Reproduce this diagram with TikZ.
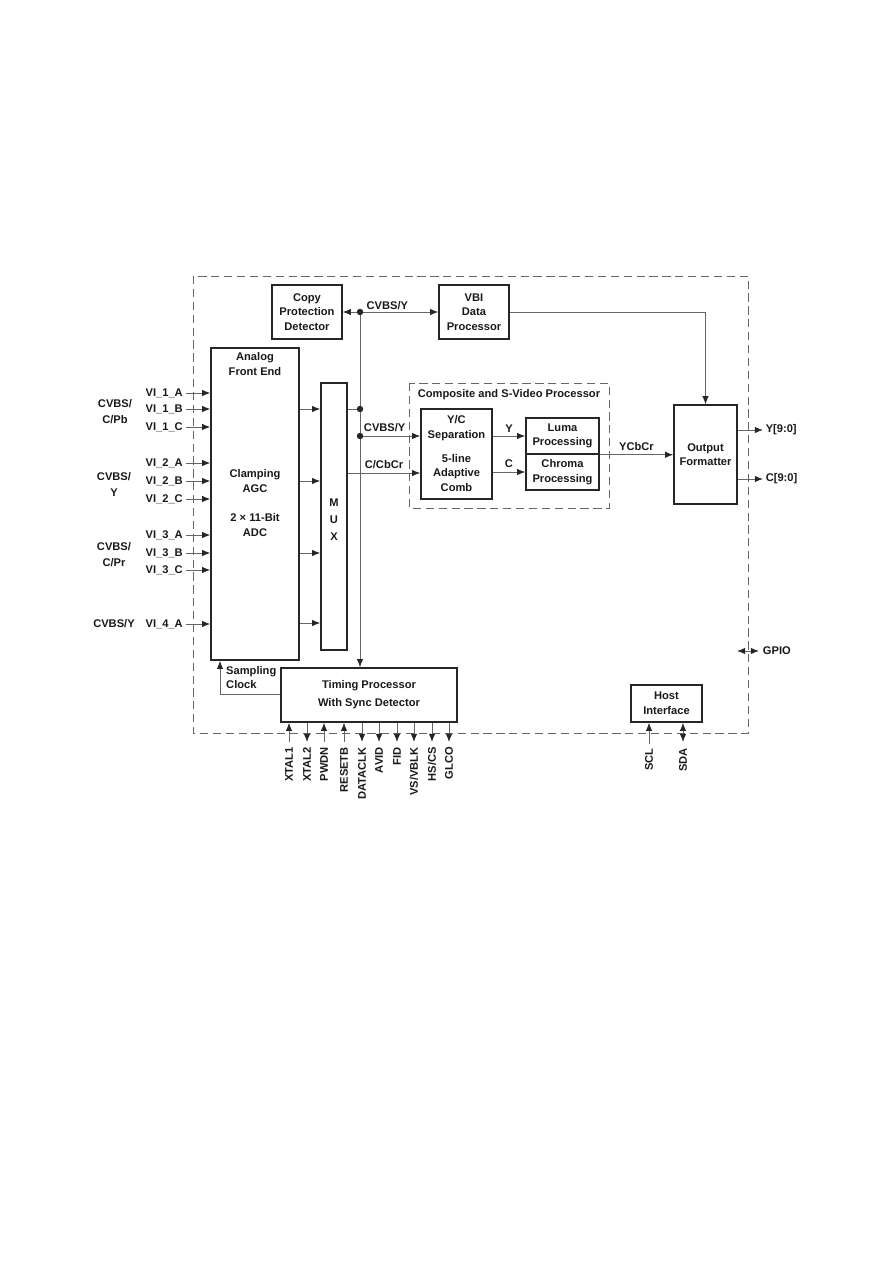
\documentclass[tikz,border=0pt]{standalone}
\usepackage{fontspec}
\setmainfont{Liberation Sans}
\usetikzlibrary{arrows.meta, positioning, calc}

\begin{document}
\begin{tikzpicture}[
    x=0.03cm, y=-0.03cm,
    every node/.style={font=\fontsize{9.5}{12.5}\selectfont\bfseries, text=black!90, inner sep=0pt},
    blk/.style={draw=black!85, line width=1.3pt, align=center},
    wire/.style={black!60, line width=0.7pt},
    arr/.style={wire, -{Latex[length=7pt,width=5.5pt,color=black!85]}},
    darr/.style={wire, {Latex[length=7pt,width=5.5pt,color=black!85]}-{Latex[length=7pt,width=5.5pt,color=black!85]}},
    dashbox/.style={draw=black!60, dash pattern=on 7pt off 4pt, line width=0.7pt},
    junc/.style={circle, fill=black!85, minimum size=5.5pt, inner sep=0pt}
]
\useasboundingbox (0,0) rectangle (893,1263);

% Chip border
\draw[dashbox] (193,276) rectangle (748,733);

% Blocks
\node[blk, minimum width=2.1cm, minimum height=1.62cm] (cpd) at (307,312) {Copy\\Protection\\Detector};
\node[blk, minimum width=2.1cm, minimum height=1.62cm] (vbi) at (474,312) {VBI\\Data\\Processor};
\node[blk, minimum width=2.64cm, minimum height=9.36cm] (afe) at (255,504) {};
\node[align=center] (afetop) at (255,364) {Analog\\Front End};
\node[align=center] (afemid) at (255,481) {Clamping\\AGC};
\node[align=center] (afebot) at (255,525) {2 × 11-Bit\\ADC};
\node[blk, minimum width=0.78cm, minimum height=8.01cm] (mux) at (334,516.5) {};
\node[align=center] (muxtxt) at (334,520) {M\\[2pt]U\\[2pt]X};

% Composite and S-Video Processor
\draw[dashbox] (409,383) rectangle (609,508);
\node (cvp) at (509,395) {Composite and S-Video Processor};
\node[blk, minimum width=2.13cm, minimum height=2.7cm] (yc) at (456.5,454) {};
\node[align=center] (yctop) at (456.5,428) {Y/C\\Separation};
\node[align=center] (ycbot) at (456.5,473) {5-line\\Adaptive\\Comb};
\node[blk, minimum width=2.19cm, minimum height=1.08cm] (luma) at (562.5,436) {Luma\\Processing};
\node[blk, minimum width=2.19cm, minimum height=1.08cm] (chroma) at (562.5,472) {Chroma\\Processing};

\node[blk, minimum width=1.89cm, minimum height=2.97cm] (of) at (705.5,454.5) {Output\\Formatter};
\node[blk, minimum width=5.28cm, minimum height=1.62cm] (tp) at (369,695) {Timing Processor\\[3pt]With Sync Detector};
\node[blk, minimum width=2.13cm, minimum height=1.11cm] (host) at (666.5,703.5) {Host\\Interface};

% CVBS/Y bus
\coordinate (bus) at (360,312);
\coordinate (j1) at (360,409);
\coordinate (j2) at (360,436);
\coordinate (cc) at (360,473);
\draw[arr] (bus) -- (cpd);
\draw[arr] (bus) -- node[above=2pt, pos=0.35] (buslbl) {CVBS/Y} (vbi);
\draw[arr] (bus) -- (bus |- tp.north);
\draw[wire] (mux.east |- j1) -- (j1);
\draw[arr] (j2) -- node[above=3pt, pos=0.41] (cvbslbl) {CVBS/Y} (yc.west |- j2);
\draw[arr] (mux.east |- cc) -- node[above=3pt] (ccblbl) {C/CbCr} (yc.west |- cc);
\node[junc] (jn0) at (bus) {};
\node[junc] (jn1) at (j1) {};
\node[junc] (jn2) at (j2) {};

% AFE to MUX
\foreach \y in {409,481,553,623} {
  \coordinate (m) at (0,\y);
  \draw[arr] (afe.east |- m) -- (mux.west |- m);
}

% Luma / chroma path
\draw[arr] (yc.east |- luma) -- node[above=3pt] (ylbl) {Y} (luma.west);
\draw[arr] (yc.east |- chroma) -- node[above=3pt] (clbl) {C} (chroma.west);
\draw[arr] (luma.south east) -- node[above=3pt] (ycbcrlbl) {YCbCr} (of.west |- luma.south);
\draw[arr] (vbi.east) -| (of.north);

% Outputs
\coordinate (yo) at (763,430);
\coordinate (co) at (763,479);
\draw[arr] (of.east |- yo) -- (yo) node[right=2pt] (youtlbl) {Y[9:0]};
\draw[arr] (of.east |- co) -- (co) node[right=2pt] (coutlbl) {C[9:0]};
\coordinate (ga) at (737,651);
\coordinate (gb) at (759,651);
\draw[darr] (ga) -- (gb) node[right=3pt] (gpiolbl) {GPIO};

% Sampling clock
\coordinate (sc) at (220,694);
\draw[arr] (tp.west |- sc) -- (sc) -- (sc |- afe.south);
\node[anchor=west, align=left] (sclbl) at (226,677.5) {Sampling\\Clock};

% Analog inputs
\foreach \y/\t in {393/VI\_1\_A, 409/VI\_1\_B, 427/VI\_1\_C, 463/VI\_2\_A, 481/VI\_2\_B, 499/VI\_2\_C,
                   535/VI\_3\_A, 553/VI\_3\_B, 570/VI\_3\_C, 624/VI\_4\_A} {
  \coordinate (in) at (186,\y);
  \draw[arr] (in) -- (afe.west |- in);
  \node[anchor=east] (vi\y) at (183,\y) {\t};
}
\node[align=center] (grp1) at (115,411.5) {CVBS/\\[1pt]C/Pb};
\node[align=center] (grp2) at (114,484.5) {CVBS/\\[1pt]Y};
\node[align=center] (grp3) at (114,554.5) {CVBS/\\[1pt]C/Pr};
\node (grp4) at (114,624) {CVBS/Y};

% Timing pins
\foreach \x in {289,324,344} {
  \coordinate (p) at (\x,742);
  \draw[arr] (p) -- (p |- tp.south);
}
\foreach \x in {307,362,379,397,414,432,449} {
  \coordinate (p) at (\x,742);
  \draw[arr] (p |- tp.south) -- (p);
}
\foreach \x/\t in {289/XTAL1, 307/XTAL2, 324/PWDN, 344/RESETB, 362/DATACLK, 379/AVID,
                   397/FID, 414/{VS/VBLK}, 432/{HS/CS}, 449/GLCO} {
  \node[rotate=90, anchor=east] (pin\x) at (\x,747) {\t};
}

% Host pins
\coordinate (scl) at (649,744);
\coordinate (sda) at (683,742);
\draw[arr] (scl) -- (scl |- host.south);
\draw[darr] (sda) -- (sda |- host.south);
\node[rotate=90, anchor=east] (scllbl) at (649,748) {SCL};
\node[rotate=90, anchor=east] (sdalbl) at (683,748) {SDA};

\end{tikzpicture}
\end{document}
